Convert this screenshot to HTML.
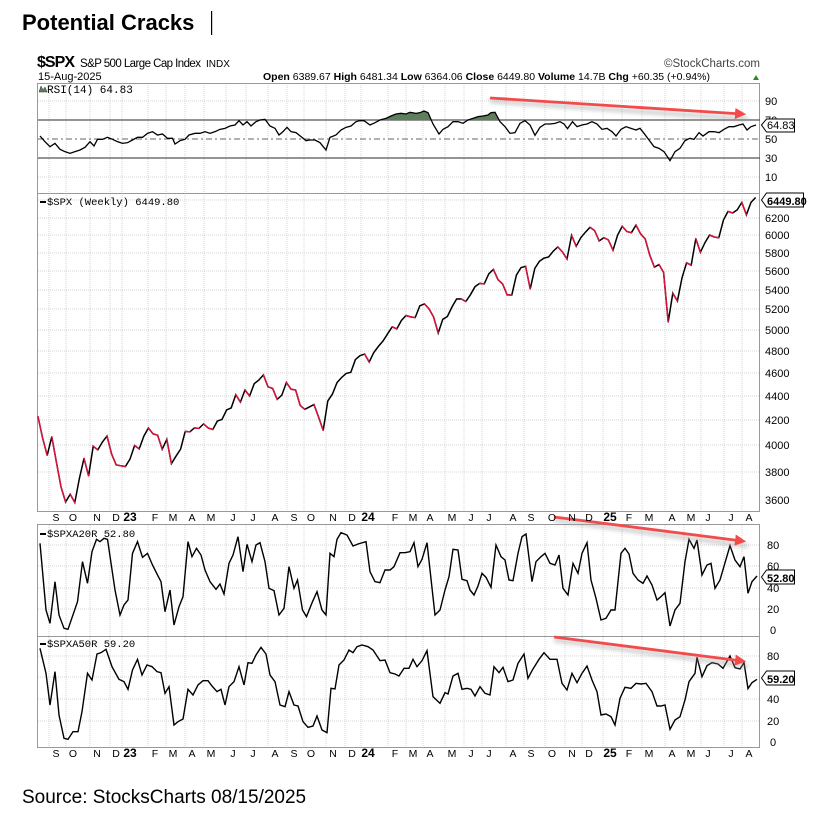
<!DOCTYPE html>
<html><head><meta charset="utf-8"><style>
html,body{margin:0;padding:0;background:#fff;}
body{width:840px;height:816px;position:relative;overflow:hidden;font-family:"Liberation Sans",sans-serif;}
svg{position:absolute;left:0;top:0;}
</style></head><body>
<svg width="840" height="816" viewBox="0 0 840 816" font-family="Liberation Sans, sans-serif">
<defs>
<clipPath id="above70" clipPathUnits="userSpaceOnUse"><rect x="38" y="83" width="722" height="37"/></clipPath>
<marker id="ah" markerWidth="4" markerHeight="4" refX="2.5" refY="2" orient="auto"><path d="M0,0 L4,2 L0,4 z" fill="#f24b4b"/></marker>
<filter id="sh" x="-10%" y="-200%" width="120%" height="500%"><feGaussianBlur stdDeviation="2"/></filter>
</defs>
<text x="22" y="30" font-size="22" font-weight="bold" fill="#000">Potential Cracks</text>
<rect x="211" y="11" width="1.2" height="24" fill="#000"/>
<text x="37" y="67" font-size="16" font-weight="bold" textLength="38">$SPX</text>
<text x="80" y="67" font-size="11.5" textLength="121">S&amp;P 500 Large Cap Index</text>
<text x="206" y="67" font-size="10">INDX</text>
<text x="760" y="67" font-size="11.5" text-anchor="end" fill="#444">©StockCharts.com</text>
<text x="38" y="80" font-size="11">15-Aug-2025</text>
<text x="263" y="80" font-size="10.5"><tspan font-weight="bold">Open</tspan> 6389.67 <tspan font-weight="bold">High</tspan> 6481.34 <tspan font-weight="bold">Low</tspan> 6364.06 <tspan font-weight="bold">Close</tspan> 6449.80 <tspan font-weight="bold">Volume</tspan> 14.7B <tspan font-weight="bold">Chg</tspan> +60.35 (+0.94%)</text>
<path d="M753,80 l3,-5 l3,5z" fill="#2a8a2a"/>
<g stroke="#d4d4d4" stroke-width="1" stroke-dasharray="1,1">
<path d="M49,83V747 M66,83V747 M90,83V747 M110,83V747 M122,83V747 M148,83V747 M166,83V747 M185,83V747 M204,83V747 M226,83V747 M246,83V747 M268,83V747 M287,83V747 M304,83V747 M326,83V747 M345,83V747 M361,83V747 M388,83V747 M406,83V747 M423,83V747 M445,83V747 M464,83V747 M482,83V747 M506,83V747 M524,83V747 M545,83V747 M565,83V747 M582,83V747 M603,83V747 M622,83V747 M642,83V747 M665,83V747 M684,83V747 M701,83V747 M724,83V747 M742,83V747"/>
<path d="M38,101H760 M38,177H760 M38,472H760 M38,445H760 M38,420H760 M38,396H760 M38,373H760 M38,351H760 M38,330H760 M38,309H760 M38,290H760 M38,271H760 M38,253H760 M38,235H760 M38,218H760 M38,200H760 M38,566H760 M38,588H760 M38,609H760 M38,545H760 M38,677H760 M38,699H760 M38,721H760 M38,656H760"/>
</g>
<rect x="38" y="511" width="722" height="14" fill="#fff"/>
<g fill="none" stroke="#999" stroke-width="1">
<rect x="37.5" y="83.5" width="722" height="110"/>
<rect x="37.5" y="193.5" width="722" height="318"/>
<rect x="37.5" y="524.5" width="722" height="112"/>
<rect x="37.5" y="636.5" width="722" height="111"/>
</g>
<g stroke="#555" stroke-width="1.2"><path d="M38,120H760 M38,158H760"/></g>
<path d="M38,139H760" stroke="#666" stroke-width="1" stroke-dasharray="6,3,2,3"/>
<g clip-path="url(#above70)">
<g transform="translate(30,50) scale(0.5,0.33333)">
<polygon fill="#5e7f5c" stroke="none" points="20,210 20,258 30,275 40,290 50,280 60,298 70,305 80,310 90,305 100,300 110,292 120,275 128,288 135,268 145,268 155,262 165,268 175,275 185,280 195,278 205,270 215,262 225,262 235,250 245,245 255,255 265,252 275,265 285,265 290,282 300,272 310,268 318,255 330,250 340,250 350,245 360,250 370,245 380,238 390,235 400,228 410,225 418,212 426,225 434,215 442,228 452,215 460,210 470,208 480,228 490,235 498,255 506,245 514,232 522,245 532,248 542,260 552,272 560,270 570,270 580,278 592,300 600,262 612,255 622,240 632,232 642,228 652,215 660,212 668,212 680,225 690,218 700,210 712,205 722,198 732,192 742,190 752,192 760,187 772,190 780,188 788,183 796,188 806,222 818,252 826,238 836,230 846,215 856,215 866,220 876,210 886,205 896,200 906,198 916,195 922,188 930,187 940,215 950,230 960,250 1452,225 1452,210"/>
</g>
</g>
<g transform="translate(30,50) scale(0.5,0.33333)">
<polyline fill="none" stroke="#000" stroke-width="1.3" vector-effect="non-scaling-stroke" points="20,258 30,275 40,290 50,280 60,298 70,305 80,310 90,305 100,300 110,292 120,275 128,288 135,268 145,268 155,262 165,268 175,275 185,280 195,278 205,270 215,262 225,262 235,250 245,245 255,255 265,252 275,265 285,265 290,282 300,272 310,268 318,255 330,250 340,250 350,245 360,250 370,245 380,238 390,235 400,228 410,225 418,212 426,225 434,215 442,228 452,215 460,210 470,208 480,228 490,235 498,255 506,245 514,232 522,245 532,248 542,260 552,272 560,270 570,270 580,278 592,300 600,262 612,255 622,240 632,232 642,228 652,215 660,212 668,212 680,225 690,218 700,210 712,205 722,198 732,192 742,190 752,192 760,187 772,190 780,188 788,183 796,188 806,222 818,252 826,238 836,230 846,215 856,215 866,220 876,210 886,205 896,200 906,198 916,195 922,188 930,187 940,215 950,230 960,250 970,248 980,220 990,212 1000,225 1010,256 1020,232 1030,222 1040,222 1050,220 1060,215 1068,222 1075,236 1085,215 1094,230 1104,225 1114,222 1124,215 1134,222 1144,238 1154,235 1164,245 1172,258 1182,238 1192,230 1202,235 1212,240 1220,235 1228,250 1238,270 1248,290 1258,295 1268,305 1280,332 1290,305 1300,295 1310,272 1320,265 1328,268 1338,248 1346,258 1358,245 1368,245 1378,248 1388,238 1398,230 1408,230 1418,225 1426,222 1434,240 1442,230 1452,225"/>
</g>
<g transform="translate(30,500) scale(0.5,0.33333)">
<polyline fill="none" stroke="#000" stroke-width="1.4" vector-effect="non-scaling-stroke" points="20,130 32,330 40,370 50,245 58,345 68,385 76,388 95,305 105,185 115,250 124,155 133,118 140,125 148,115 155,118 170,270 180,345 188,315 196,300 205,160 215,125 225,172 235,160 245,195 255,225 262,245 270,335 280,270 288,375 298,320 306,290 316,125 324,170 333,145 342,165 350,210 360,245 372,268 380,252 388,282 398,190 406,165 416,110 426,215 434,133 444,185 452,135 460,128 470,185 478,265 488,272 498,345 508,325 518,200 528,265 535,240 545,330 553,350 565,305 574,275 584,330 592,345 600,160 608,170 614,118 622,98 634,105 646,138 656,132 672,125 680,215 690,245 700,248 710,210 720,210 728,200 740,158 750,158 760,155 768,128 776,200 784,178 794,128 810,345 820,330 830,270 838,230 846,148 856,150 864,238 874,242 880,270 888,285 896,258 904,220 912,232 922,262 932,135 942,170 950,180 958,240 966,242 976,160 984,110 992,102 1004,245 1012,185 1022,170 1030,160 1040,190 1050,195 1058,165 1066,265 1076,285 1086,190 1096,220 1104,160 1114,128 1122,240 1132,295 1142,360 1152,355 1162,330 1170,330 1182,160 1190,145 1198,162 1206,220 1216,240 1226,250 1234,228 1244,255 1254,300 1262,290 1270,278 1280,378 1290,330 1300,310 1310,185 1318,118 1328,145 1334,120 1344,225 1354,195 1362,190 1370,265 1380,240 1400,137 1410,180 1420,200 1428,170 1436,280 1444,245 1454,228"/>
<polyline fill="none" stroke="#000" stroke-width="1.4" vector-effect="non-scaling-stroke" points="20,445 32,520 40,615 50,515 58,645 68,715 76,718 86,695 96,695 104,635 115,520 124,540 134,462 142,458 152,448 164,500 178,538 188,545 196,568 205,510 215,478 224,525 234,495 244,500 254,515 262,518 270,580 278,560 288,675 296,665 306,657 316,568 326,585 336,555 346,542 356,542 364,558 374,575 382,568 390,615 398,560 408,545 418,500 428,555 436,488 444,490 452,465 462,442 472,462 480,525 490,545 500,615 510,620 518,575 528,615 536,618 546,665 556,682 566,678 574,648 584,690 594,698 602,565 610,567 618,495 628,480 638,450 646,458 654,440 664,435 676,440 686,450 700,482 710,480 720,518 730,522 738,528 748,505 758,505 766,478 774,500 784,482 794,452 806,590 820,610 830,578 836,582 846,528 856,520 864,568 874,565 882,568 890,588 900,560 910,580 920,585 928,500 938,518 946,502 956,545 966,540 976,490 988,462 996,535 1004,512 1018,478 1028,458 1040,478 1054,478 1064,550 1074,570 1084,520 1094,548 1104,520 1114,498 1124,540 1134,575 1142,645 1152,642 1162,650 1170,675 1180,595 1190,562 1202,565 1212,550 1222,552 1232,550 1244,575 1254,618 1262,618 1270,615 1280,688 1290,660 1300,650 1310,600 1318,545 1330,520 1334,472 1344,530 1354,497 1364,488 1376,492 1386,505 1400,468 1410,503 1420,507 1428,488 1436,566 1444,548 1454,538"/>
</g>
<g id="price"></g>
<g stroke="#999" stroke-width="4" opacity="0.5" filter="url(#sh)">
<path d="M490,101 L748,119"/><path d="M554,520 L748,546"/><path d="M554,640 L748,666"/>
</g>
<g stroke="#f24b4b" stroke-width="2.8" fill="none" marker-end="url(#ah)">
<path d="M490,98 L742,114"/><path d="M554,517 L742,541"/><path d="M554,637 L742,661"/>
</g>
<g font-size="11" fill="#000" font-family="Liberation Mono, monospace">
<text x="47" y="93">RSI(14) 64.83</text>
<text x="47" y="205" font-size="10.5">$SPX (Weekly) 6449.80</text>
<text x="47" y="537" font-size="10.5">$SPXA20R 52.80</text>
<text x="47" y="647" font-size="10.5">$SPXA50R 59.20</text>
</g>
<path d="M39,92 l2,-6 l2,4 l2,-3 l2,5z" fill="#5e7f5c" stroke="#333" stroke-width="0.5"/>
<rect x="40" y="201" width="6" height="2" fill="#000"/><rect x="40" y="533" width="6" height="2" fill="#000"/><rect x="40" y="643" width="6" height="2" fill="#000"/>
<g font-size="11" fill="#000">
<text x="765" y="105">90</text><text x="765" y="124">70</text><text x="765" y="143">50</text><text x="765" y="162">30</text><text x="765" y="181">10</text>
<text x="765" y="476">3800</text><text x="765" y="449">4000</text><text x="765" y="424">4200</text><text x="765" y="400">4400</text><text x="765" y="377">4600</text><text x="765" y="355">4800</text><text x="765" y="334">5000</text><text x="765" y="313">5200</text><text x="765" y="294">5400</text><text x="765" y="275">5600</text><text x="765" y="257">5800</text><text x="765" y="239">6000</text><text x="765" y="222">6200</text><text x="765" y="504">3600</text>
<text x="767" y="549">80</text><text x="767" y="570">60</text><text x="767" y="592">40</text><text x="767" y="613">20</text><text x="770" y="634">0</text>
<text x="767" y="660">80</text><text x="767" y="681">60</text><text x="767" y="703">40</text><text x="767" y="725">20</text><text x="770" y="746">0</text>
</g>
<g fill="#fff" stroke="#000" stroke-width="1">
<path d="M761.5,125 l5,-6 h28 v13 h-28z"/>
<path d="M761.5,200 l5,-7 h37 v14 h-37z"/>
<path d="M761.5,577 l5,-7 h28 v14 h-28z"/>
<path d="M761.5,678 l5,-7 h28 v14 h-28z"/>
</g>
<g font-size="11" fill="#000">
<text x="767" y="129">64.83</text>
<text x="767" y="205" font-weight="bold">6449.80</text>
<text x="767" y="582" font-weight="bold">52.80</text>
<text x="767" y="683" font-weight="bold">59.20</text>
</g>
<g font-size="10.5" text-anchor="middle" fill="#000">
<text y="521"><tspan x="56">S</tspan><tspan x="73">O</tspan><tspan x="97">N</tspan><tspan x="116">D</tspan><tspan x="130" font-weight="bold" font-size="12">23</tspan><tspan x="155">F</tspan><tspan x="173">M</tspan><tspan x="192">A</tspan><tspan x="211">M</tspan><tspan x="233">J</tspan><tspan x="253">J</tspan><tspan x="275">A</tspan><tspan x="294">S</tspan><tspan x="311">O</tspan><tspan x="333">N</tspan><tspan x="352">D</tspan><tspan x="368" font-weight="bold" font-size="12">24</tspan><tspan x="395">F</tspan><tspan x="413">M</tspan><tspan x="430">A</tspan><tspan x="452">M</tspan><tspan x="471">J</tspan><tspan x="489">J</tspan><tspan x="513">A</tspan><tspan x="531">S</tspan><tspan x="552">O</tspan><tspan x="572">N</tspan><tspan x="589">D</tspan><tspan x="610" font-weight="bold" font-size="12">25</tspan><tspan x="629">F</tspan><tspan x="649">M</tspan><tspan x="672">A</tspan><tspan x="691">M</tspan><tspan x="708">J</tspan><tspan x="731">J</tspan><tspan x="749">A</tspan></text>
<text y="757"><tspan x="56">S</tspan><tspan x="73">O</tspan><tspan x="97">N</tspan><tspan x="116">D</tspan><tspan x="130" font-weight="bold" font-size="12">23</tspan><tspan x="155">F</tspan><tspan x="173">M</tspan><tspan x="192">A</tspan><tspan x="211">M</tspan><tspan x="233">J</tspan><tspan x="253">J</tspan><tspan x="275">A</tspan><tspan x="294">S</tspan><tspan x="311">O</tspan><tspan x="333">N</tspan><tspan x="352">D</tspan><tspan x="368" font-weight="bold" font-size="12">24</tspan><tspan x="395">F</tspan><tspan x="413">M</tspan><tspan x="430">A</tspan><tspan x="452">M</tspan><tspan x="471">J</tspan><tspan x="489">J</tspan><tspan x="513">A</tspan><tspan x="531">S</tspan><tspan x="552">O</tspan><tspan x="572">N</tspan><tspan x="589">D</tspan><tspan x="610" font-weight="bold" font-size="12">25</tspan><tspan x="629">F</tspan><tspan x="649">M</tspan><tspan x="672">A</tspan><tspan x="691">M</tspan><tspan x="708">J</tspan><tspan x="731">J</tspan><tspan x="749">A</tspan></text>
</g>
<text x="22" y="803" font-size="19" fill="#000">Source: StocksCharts 08/15/2025</text>
</svg>
<script>
(function(){
var p=[4228,4057,3924,4067,3873,3693,3586,3640,3583,3753,3901,3771,3993,3965,4026,4072,3934,3852,3845,3840,
3895,3999,3973,4071,4136,4090,4079,3970,4046,3862,3917,3971,4109,4105,4137,4133,4169,4136,4124,4192,4205,4282,4299,4410,4348,4450,4399,4505,4536,4582,4478,4464,4370,4406,4515,4457,4450,4320,4288,4308,4327,4224,4117,4358,4415,4514,4559,4595,4604,4719,4754,4770,
4697,4784,4840,4891,4959,5027,5006,5088,5137,5124,5117,5234,5254,5204,5123,4967,5100,5128,5223,5303,5305,5278,5347,5431,5465,5460,5567,5615,5505,5459,5346,5344,5554,5634,5648,5408,5626,5703,5738,5751,5815,5864,5808,5729,5995,5870,5969,6032,6090,6051,5931,5970,
5942,5827,5997,6101,6041,6026,6115,6013,5955,5770,5639,5668,5581,5074,5363,5283,5525,5687,5660,5958,5803,5912,6000,5977,5968,6173,6279,6260,6297,6389,6238,6389,6450];
function X(i){return 38+4.6*i;}function Y(v){return 500-518.8*Math.log(v/3600);}
var blk="",red="";
for(var i=0;i<p.length;i++){blk+=(i?"L":"M")+X(i).toFixed(1)+","+Y(p[i]).toFixed(1);
if(i&&p[i]<p[i-1])red+="M"+X(i-1).toFixed(1)+","+Y(p[i-1]).toFixed(1)+"L"+X(i).toFixed(1)+","+Y(p[i]).toFixed(1);}
var g=document.getElementById("price");var ns="http://www.w3.org/2000/svg";
var a=document.createElementNS(ns,"path");a.setAttribute("d",blk);a.setAttribute("fill","none");a.setAttribute("stroke","#000");a.setAttribute("stroke-width","1.5");g.appendChild(a);
var b=document.createElementNS(ns,"path");b.setAttribute("d",red);b.setAttribute("fill","none");b.setAttribute("stroke","#d8143c");b.setAttribute("stroke-width","1.5");b.setAttribute("stroke-linecap","round");g.appendChild(b);
})();
</script>
</body></html>
